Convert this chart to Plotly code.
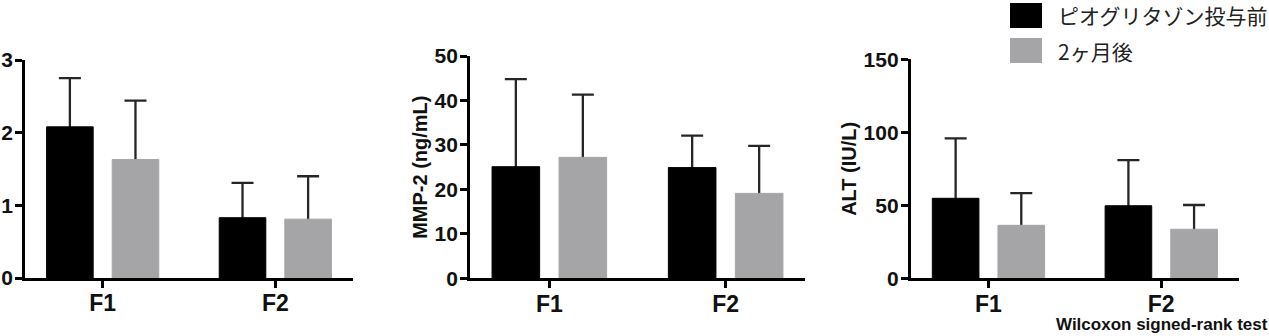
import plotly.graph_objects as go

W, H = 1269, 336

categories = ["F1", "F2"]
series_names = ["ピオグリタゾン投与前", "2ヶ月後"]

# Panel 1 (left, y-axis title cut off in original)
p1_before = [2.08, 0.83]
p1_before_err = [0.67, 0.48]
p1_after = [1.63, 0.81]
p1_after_err = [0.81, 0.59]

# Panel 2: MMP-2
p2_before = [25.1, 24.9]
p2_before_err = [19.7, 7.2]
p2_after = [27.2, 19.1]
p2_after_err = [14.1, 10.7]

# Panel 3: ALT
p3_before = [54.8, 49.7]
p3_before_err = [41.1, 31.3]
p3_after = [36.3, 33.6]
p3_after_err = [22.1, 16.6]

y_titles = ["", "MMP-2 (ng/mL)", "ALT (IU/L)"]
y_ranges = [[0, 3], [0, 50], [0, 150]]
y_ticks = [[0, 1, 2, 3], [0, 10, 20, 30, 40, 50], [0, 50, 100, 150]]
footnote = "Wilcoxon signed-rank test"

colors = ["#000000", "#a5a5a8"]
FONT = "Liberation Sans, Arial, sans-serif"
CJK = "Noto Sans CJK JP, sans-serif"

# pixel layout of each panel: (x_left, x_right, y_bottom_px, y_top_px)
panels_px = [(25, 353, 278, 60), (470, 805, 278.3, 56), (910.7, 1239, 278.3, 59.3)]

data = [
    (p1_before, p1_before_err, p1_after, p1_after_err),
    (p2_before, p2_before_err, p2_after, p2_after_err),
    (p3_before, p3_before_err, p3_after, p3_after_err),
]

fig = go.Figure()
layout = {}
for i, (vals, (xl, xr, yb, yt)) in enumerate(zip(data, panels_px)):
    n = "" if i == 0 else str(i + 1)
    b, be, a, ae = vals
    pairs = [(b, be), (a, ae)]
    # error-bar carriers first (transparent), real bars drawn over them
    for k, (v, e) in enumerate(pairs):
        fig.add_trace(go.Bar(
            x=categories, y=v, offsetgroup=str(k),
            marker=dict(color="rgba(0,0,0,0)", line=dict(width=0)),
            error_y=dict(type="data", array=e, arrayminus=v, symmetric=False,
                         color="#262626", thickness=2.3, width=11),
            xaxis="x" + n, yaxis="y" + n, showlegend=False, hoverinfo="skip",
        ))
    for k, (v, e) in enumerate(pairs):
        fig.add_trace(go.Bar(
            x=categories, y=v, name=series_names[k], offsetgroup=str(k),
            marker=dict(color=colors[k], line=dict(color=colors[k], width=1)),
            xaxis="x" + n, yaxis="y" + n, showlegend=False,
        ))
    layout["xaxis" + n] = dict(
        domain=[xl / W, xr / W], anchor="y" + n, type="category", automargin=False,
        range=[-0.45, 1.45], showline=True, linecolor="#000", linewidth=2.7,
        ticks="outside", ticklen=7, tickwidth=2.7, tickcolor="#000",
        ticklabelstandoff=-4,
        tickfont=dict(family=FONT, size=23, color="#111", weight="bold"),
        showgrid=False, zeroline=False, fixedrange=True, layer="above traces",
    )
    layout["yaxis" + n] = dict(
        domain=[(H - yb) / H, (H - yt) / H], anchor="x" + n, automargin=False,
        range=y_ranges[i], tickvals=y_ticks[i], showline=True, linecolor="#000",
        linewidth=2.7, ticks="outside", ticklen=7, tickwidth=2.7, tickcolor="#000",
        ticklabelstandoff=-2,
        tickfont=dict(family=FONT, size=21, color="#111", weight="bold"),
        title=dict(text=y_titles[i], font=dict(family=FONT, size=20, color="#111", weight="bold"),
                   standoff=2),
        showgrid=False, zeroline=False, fixedrange=True, layer="above traces",
    )

shapes = []
annotations = []
legend_y = [(3, 28), (38, 63)]
for k, name in enumerate(series_names):
    y0, y1 = legend_y[k]
    shapes.append(dict(type="rect", xref="paper", yref="paper",
                       x0=1010 / W, x1=1042 / W, y0=(H - y1) / H, y1=(H - y0) / H,
                       fillcolor=colors[k], line=dict(width=0)))
    annotations.append(dict(text=name, xref="paper", yref="paper", x=1056 / W,
                            y=(H - (y0 + y1) / 2) / H, xanchor="left", yanchor="middle",
                            showarrow=False, font=dict(family=CJK, size=21, color="#222")))
annotations.append(dict(text=footnote, xref="paper", yref="paper", x=1.0, y=(H - 324.5) / H,
                        xanchor="right", yanchor="middle", showarrow=False, borderpad=0,
                        font=dict(family=FONT, size=17, color="#111", weight="bold")))

fig.update_layout(
    template="none",
    width=W, height=H, margin=dict(l=0, r=0, t=0, b=0, pad=0), autosize=False,
    paper_bgcolor="white", plot_bgcolor="white", showlegend=False,
    barmode="group", bargap=0.24, bargroupgap=0.29,
    shapes=shapes, annotations=annotations, **layout,
)

fig.write_html("out.html")
